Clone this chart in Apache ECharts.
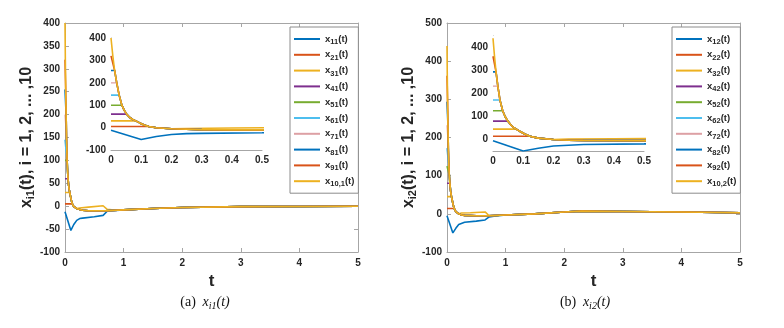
<!DOCTYPE html>
<html>
<head>
<meta charset="utf-8">
<script src="https://cdn.jsdelivr.net/npm/echarts@6/dist/echarts.min.js"></script>
<style>
  html, body { margin: 0; padding: 0; background: #fff; }
  #chart { width: 784px; height: 328px; }
</style>
</head>
<body>
<div id="chart"></div>
<script>
// series colours (MATLAB default order, repeated)
const colors = ['#0072BD', '#D95319', '#EDB120', '#7E2F8E', '#77AC30', '#4DBEEE', '#DDA0A4', '#0072BD', '#D95319', '#EDB120'];

// ---- panel (a): x_i1(t) ----
const namesA = ['x11', 'x21', 'x31', 'x41', 'x51', 'x61', 'x71', 'x81', 'x91', 'x10,1'];
const startA = [-12, 5, 30, 60, 100, 145, 200, 255, 320, 400];
const joinA = [null, 0.125, null, 0.052, 0.036, 0.027, 0.019, 0.012, 0.006, 0];
const timeA = [0, 0.006, 0.012, 0.019, 0.027, 0.036, 0.044, 0.052, 0.062, 0.072, 0.082, 0.095, 0.11, 0.125, 0.15, 0.2, 0.25, 0.3, 0.4, 0.5, 0.7, 1, 1.5, 2, 3, 4, 5];
const curveA = [400, 320, 255, 200, 145, 100, 77, 60, 45, 36, 30, 21, 12, 5, -1, -5, -7, -9, -10, -10, -10, -8, -5, -3, -1, -0.5, 0];
const blueA = [[0, -12], [0.1, -53], [0.15, -40], [0.2, -31], [0.25, -27], [0.3, -26], [0.5, -23], [0.65, -20], [0.72, -11], [0.8, -10], [1, -8], [1.5, -5], [2, -3], [3, -1], [4, -0.5], [5, 0]];
const yellowA = [[0, 30], [0.082, 30], [0.095, 21], [0.11, 12], [0.125, 5], [0.15, -1], [0.2, -5], [0.25, -4], [0.4, -2], [0.65, 1], [0.72, -7], [0.8, -8], [1, -8], [1.5, -5], [2, -3], [3, -1], [4, -0.5], [5, 0]];

// ---- panel (b): x_i2(t) ----
const namesB = ['x12', 'x22', 'x32', 'x42', 'x52', 'x62', 'x72', 'x82', 'x92', 'x10,2'];
const startB = [-5, 14, 45, 80, 125, 172, 232, 294, 362, 440];
const joinB = [null, 0.122, null, 0.049, 0.032, 0.023, 0.016, 0.01, 0.005, 0];
const timeB = [0, 0.005, 0.01, 0.016, 0.023, 0.032, 0.04, 0.049, 0.06, 0.068, 0.077, 0.09, 0.105, 0.122, 0.15, 0.2, 0.25, 0.3, 0.5, 0.7, 1, 1.5, 2, 2.3, 3, 4, 5];
const curveB = [440, 362, 294, 232, 172, 125, 100, 80, 62, 52, 45, 35, 24, 14, 6, 0, -3, -4, -5, -5, -3, 0, 5, 7, 6, 5, 3];
const blueB = [[0, -5], [0.1, -50], [0.15, -38], [0.2, -28], [0.3, -22], [0.5, -19], [0.65, -16], [0.72, -8], [0.8, -6], [1, -3], [1.5, 0], [2, 5], [2.3, 7], [3, 6], [4, 5], [5, 3]];
const yellowB = [[0, 45], [0.077, 45], [0.09, 35], [0.105, 24], [0.122, 14], [0.15, 6], [0.2, 0], [0.25, 2], [0.4, 3], [0.65, 5], [0.72, -5], [0.8, -5], [1, -3], [1.5, 0], [2, 5], [2.3, 7], [3, 6], [4, 5], [5, 3]];

// each trajectory: flat at its start value until it meets the common curve, then follows it
function build(start, join, time, curve, custom) {
  return start.map((v0, i) => {
    if (custom[i]) return custom[i];
    const pts = [[0, v0]];
    time.forEach((t, k) => { if (t >= join[i]) pts.push([t, curve[k]]); });
    return pts;
  });
}
const dataA = build(startA, joinA, timeA, curveA, { 0: blueA, 2: yellowA });
const dataB = build(startB, joinB, timeB, curveB, { 0: blueB, 2: yellowB });

const font = '"Liberation Sans", Arial, sans-serif';
const axisGray = '#a6a6a6';
const labelStyle = { color: '#262626', fontWeight: 'bold', fontSize: 10, fontFamily: font };

function mainAxes(grid, xMax, yMin, yMax, yInt) {
  const line = { show: true, onZero: false, lineStyle: { color: axisGray } };
  const tick = { show: true, inside: true, length: 4, lineStyle: { color: axisGray } };
  return {
    x: [
      { type: 'value', gridIndex: grid, min: 0, max: xMax, interval: 1, axisLine: line, axisTick: tick,
        splitLine: { show: false }, axisLabel: Object.assign({ margin: 6 }, labelStyle),
        name: 't', nameLocation: 'middle', nameGap: 18,
        nameTextStyle: { fontSize: 17, fontWeight: 'bold', color: '#262626', fontFamily: font } },
      { type: 'value', gridIndex: grid, position: 'top', min: 0, max: xMax, interval: 1, axisLine: line,
        axisTick: tick, splitLine: { show: false }, axisLabel: { show: false } }
    ],
    y: [
      { type: 'value', gridIndex: grid, min: yMin, max: yMax, interval: yInt, axisLine: line, axisTick: tick,
        splitLine: { show: false }, axisLabel: Object.assign({ margin: 5 }, labelStyle) },
      { type: 'value', gridIndex: grid, position: 'right', min: yMin, max: yMax, interval: yInt, axisLine: line,
        axisTick: tick, splitLine: { show: false }, axisLabel: { show: false } }
    ]
  };
}

function insetAxes(grid, yMin, yMax, yInt) {
  const line = { show: true, onZero: false, lineStyle: { color: axisGray } };
  return {
    x: { type: 'value', gridIndex: grid, min: 0, max: 0.5, interval: 0.1, axisLine: line,
         axisTick: { show: false }, splitLine: { show: false },
         axisLabel: Object.assign({ margin: 5, formatter: v => String(+v.toFixed(1)) }, labelStyle) },
    y: { type: 'value', gridIndex: grid, min: yMin, max: yMax, interval: yInt, axisLine: line,
         axisTick: { show: false }, splitLine: { show: false },
         axisLabel: Object.assign({ margin: 5, formatter: v => (v % 100 === 0 ? String(v) : '') }, labelStyle) }
  };
}

const mA = mainAxes(0, 5, -100, 400, 50);
const iA = insetAxes(1, -100, 400, 100);
const mB = mainAxes(2, 5, -100, 500, 100);
const iB = insetAxes(3, -50, 450, 50);

// y axis titles with subscripts
mA.y[0].name = '{a|x}{s|i1}{a|(t), i = 1, 2, ... ,10}';
mB.y[0].name = '{a|x}{s|i2}{a|(t), i = 1, 2, ... ,10}';
[mA, mB].forEach(m => {
  Object.assign(m.y[0], {
    nameLocation: 'middle', nameGap: 19, nameRotate: 90,
    nameTextStyle: { rich: {
      a: { fontSize: 16, fontWeight: 'bold', color: '#262626', fontFamily: font, lineHeight: 20 },
      s: { fontSize: 11, fontWeight: 'bold', color: '#262626', fontFamily: font, lineHeight: 12, padding: [8, 0, 0, 0] }
    } }
  });
});

const series = [];
[[namesA, dataA, 0, 2], [namesB, dataB, 3, 5]].forEach(([names, data, mainIdx, insetIdx]) => {
  names.forEach((name, i) => {
    const w = i === 6 ? 1.2 : 1.6;
    const common = { type: 'line', name: name, data: data[i], showSymbol: false, symbol: 'none',
      lineStyle: { color: colors[i], width: w }, itemStyle: { color: colors[i] }, animation: false };
    series.push(Object.assign({ xAxisIndex: mainIdx, yAxisIndex: mainIdx }, common));
    series.push(Object.assign({ xAxisIndex: insetIdx, yAxisIndex: insetIdx }, common));
  });
});

function legend(names, left) {
  return {
    data: names, orient: 'vertical', left: left, top: 27, icon: 'rect', itemWidth: 26, itemHeight: 2,
    itemGap: 1.8, padding: [5, 4, 5, 4], borderColor: '#8c8c8c', borderWidth: 1, backgroundColor: '#fff',
    formatter: n => '{b|x}{s|' + n.slice(1) + '}{b|(t)}',
    textStyle: { rich: {
      b: { fontSize: 9.5, fontWeight: 'bold', color: '#262626', fontFamily: font, lineHeight: 14 },
      s: { fontSize: 7.5, fontWeight: 'bold', color: '#262626', fontFamily: font, lineHeight: 8, padding: [6, 0, 0, 0] }
    } }
  };
}

function caption(letter, sub, cx) {
  return {
    type: 'text', x: cx, y: 302,
    style: {
      text: '{n|(' + letter + ')}  {i|x}{s|' + sub + '}{i|(t)}',
      align: 'center', verticalAlign: 'middle',
      rich: {
        n: { fontSize: 14, fontFamily: '"Liberation Serif", serif', fill: '#111', lineHeight: 18 },
        i: { fontSize: 14, fontFamily: '"Liberation Serif", serif', fontStyle: 'italic', fill: '#111', lineHeight: 18 },
        s: { fontSize: 10, fontFamily: '"Liberation Serif", serif', fontStyle: 'italic', fill: '#111', lineHeight: 10, padding: [8, 0, 0, 0] }
      }
    }
  };
}

const chart = echarts.init(document.getElementById('chart'), null, { renderer: 'canvas' });
chart.setOption({
  backgroundColor: '#fff',
  animation: false,
  grid: [
    { left: 65, top: 23, width: 293, height: 229 },
    { left: 111, top: 38, width: 151, height: 112, show: true, backgroundColor: '#fff', borderWidth: 0, z: 3 },
    { left: 447, top: 23, width: 293, height: 229 },
    { left: 493, top: 36, width: 151, height: 115, show: true, backgroundColor: '#fff', borderWidth: 0, z: 3 }
  ],
  xAxis: [mA.x[0], mA.x[1], iA.x, mB.x[0], mB.x[1], iB.x],
  yAxis: [mA.y[0], mA.y[1], iA.y, mB.y[0], mB.y[1], iB.y],
  legend: [legend(namesA, 290), legend(namesB, 672)],
  graphic: [caption('a', 'i1', 205), caption('b', 'i2', 585)],
  series: series
});
</script>
</body>
</html>
